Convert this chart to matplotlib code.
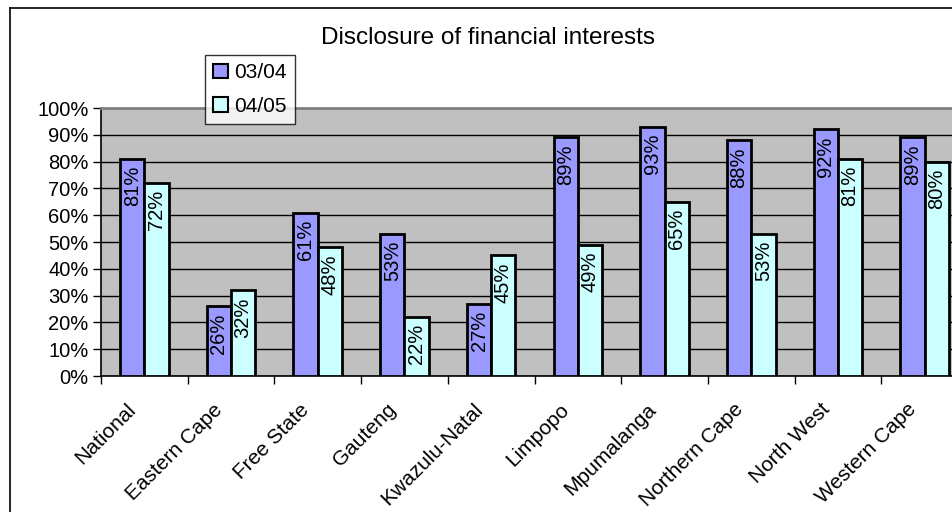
import matplotlib
matplotlib.use("Agg")
import matplotlib.pyplot as plt
import numpy as np
from matplotlib.patches import Patch
from matplotlib.lines import Line2D
from matplotlib.ticker import MultipleLocator, FuncFormatter
from matplotlib.transforms import ScaledTranslation

categories = ["National", "Eastern Cape", "Free State", "Gauteng", "Kwazulu-Natal",
              "Limpopo", "Mpumalanga", "Northern Cape", "North West", "Western Cape"]
s0304 = [81, 26, 61, 53, 27, 89, 93, 88, 92, 89]
s0405 = [72, 32, 48, 22, 45, 49, 65, 53, 81, 80]
series_names = ["03/04", "04/05"]
title = "Disclosure of financial interests"

plt.rcParams['font.family'] = ['Liberation Sans', 'DejaVu Sans']

W, H = 953, 512
fig = plt.figure(figsize=(W/100, H/100), dpi=100)
fig.patch.set_facecolor('white')

L, R, T, B = 101, 968, 108, 376
ax = fig.add_axes([L/W, 1 - B/H, (R-L)/W, (B-T)/H])
ax.set_facecolor('#C0C0C0')

x = np.arange(len(categories))
w = 0.28
c1, c2 = '#9999FF', '#CCFFFF'
b1 = ax.bar(x - w/2, s0304, w, color=c1, edgecolor='black', linewidth=2, zorder=3)
b2 = ax.bar(x + w/2, s0405, w, color=c2, edgecolor='black', linewidth=2, zorder=3)

fs = 14.5
for bars, vals in ((b1, s0304), (b2, s0405)):
    for rect, v in zip(bars, vals):
        ax.annotate(f"{v}%", (rect.get_x() + rect.get_width()/2, v),
                    xytext=(0, -5), textcoords='offset points',
                    rotation=90, ha='center', va='top', fontsize=fs, zorder=4)

ax.set_xlim(-0.5, len(categories) - 0.5)
ax.set_ylim(0, 100)
ax.yaxis.set_major_locator(MultipleLocator(10))
ax.yaxis.set_major_formatter(FuncFormatter(lambda v, p: f"{int(v)}%"))
ax.grid(axis='y', color='black', linewidth=1, zorder=1)
ax.set_axisbelow(True)

ax.set_xticks(np.arange(len(categories) + 1) - 0.5)
ax.set_xticklabels([])
ax.tick_params(axis='x', which='major', length=6, width=1, color='black', direction='out')
ax.tick_params(axis='y', length=6, width=1, direction='out', labelsize=fs, pad=3)

lab_tr = ax.get_xaxis_transform() + ScaledTranslation(-18/100, -24/100, fig.dpi_scale_trans)
for i, name in enumerate(categories):
    ax.text(i, 0, name, transform=lab_tr, rotation=45, ha='right', va='top',
            rotation_mode='anchor', fontsize=15, clip_on=False)

for s in ('left', 'bottom'):
    ax.spines[s].set_color('black')
    ax.spines[s].set_linewidth(1.2)
ax.spines['top'].set_color('#808080')
ax.spines['top'].set_linewidth(2)
ax.spines['right'].set_visible(False)

fig.text(488/W, 1 - 38/H, title, ha='center', va='center', fontsize=17.5)

handles = [Patch(facecolor=c1, edgecolor='black', linewidth=1.5),
           Patch(facecolor=c2, edgecolor='black', linewidth=1.5)]
leg = fig.legend(handles, series_names, loc='upper left',
                 bbox_to_anchor=(205/W, 1 - 55/H), fontsize=15,
                 frameon=True, fancybox=False, shadow=False,
                 handlelength=0.7, handleheight=0.7, handletextpad=0.3,
                 labelspacing=0.7, borderpad=0.4, borderaxespad=0)
leg.get_frame().set_edgecolor('black')
leg.get_frame().set_linewidth(1)
leg.set_zorder(10)

fig.add_artist(Line2D([10/W, 10/W], [0, 1 - 8/H], color='black', linewidth=1.2,
                      transform=fig.transFigure))
fig.add_artist(Line2D([10/W, 1], [1 - 8/H, 1 - 8/H], color='black', linewidth=1.2,
                      transform=fig.transFigure))

fig.savefig('out.png', dpi=100)
